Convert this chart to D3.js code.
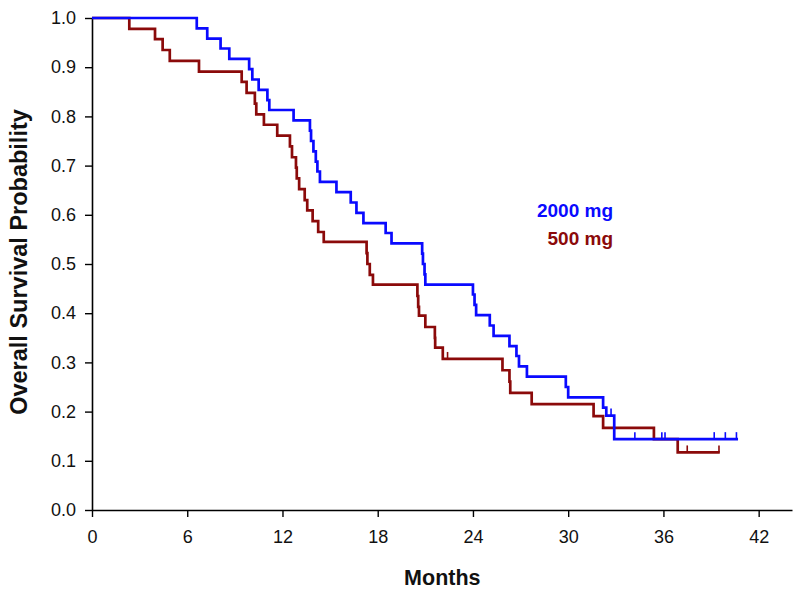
<!DOCTYPE html>
<html>
<head>
<meta charset="utf-8">
<script src="https://cdn.jsdelivr.net/npm/d3@7/dist/d3.min.js"></script>
<style>
  html, body { margin: 0; padding: 0; background: #fff; }
  svg { display: block; font-family: "Liberation Sans", Arial, sans-serif; }
</style>
</head>
<body>
<svg id="chart" width="800" height="600"></svg>
<script>
// ---- Data ----
const seriesNames = ["2000 mg", "500 mg"];
const seriesColors = ["#0a0aff", "#8b0a0a"];

// 2000 mg arm: event times (months) and survival after each step
const timesHigh = [0, 6.6, 7.26, 8.1, 8.65, 9.9, 10.1, 10.5, 11.05, 11.17, 12.7, 13.73, 13.8, 13.95, 14.1, 14.2, 14.36,
  15.4, 16.3, 16.66, 17.1, 18.5, 18.87, 20.8, 20.85, 20.95, 21.0, 24.0, 24.1, 24.2, 25.06, 25.3, 26.3, 26.74, 26.9,
  27.4, 29.85, 30.0, 32.2, 32.4, 32.9];
const survHigh = [1.0, 0.979, 0.958, 0.938, 0.917, 0.896, 0.875, 0.854, 0.833, 0.813, 0.792, 0.771, 0.750, 0.729, 0.708, 0.688, 0.667,
  0.646, 0.625, 0.604, 0.583, 0.563, 0.542, 0.521, 0.500, 0.479, 0.458, 0.438, 0.417, 0.396, 0.375, 0.354, 0.333, 0.313, 0.292,
  0.271, 0.250, 0.229, 0.208, 0.192, 0.144];
const endHigh = 40.7;
const censorHigh = [32.7, 34.2, 35.9, 36.1, 39.2, 39.9, 40.6];

// 500 mg arm
const timesLow = [0, 2.35, 3.97, 4.45, 4.9, 6.74, 9.43, 9.74, 10.26, 10.35, 10.83, 11.67, 12.47, 12.6, 12.85, 12.9, 13.05,
  13.4, 13.56, 13.9, 14.25, 14.6, 17.3, 17.35, 17.5, 17.7, 20.5, 20.55, 20.6, 21.0, 21.6, 21.62, 22.1, 25.86, 26.3, 26.35,
  27.7, 31.6, 32.2, 35.4, 36.9];
const survLow = [1.0, 0.978, 0.957, 0.935, 0.913, 0.891, 0.870, 0.848, 0.826, 0.804, 0.783, 0.761, 0.739, 0.717, 0.696, 0.674, 0.652,
  0.630, 0.609, 0.587, 0.565, 0.545, 0.522, 0.500, 0.478, 0.458, 0.435, 0.413, 0.395, 0.372, 0.350, 0.330, 0.307, 0.284, 0.261, 0.238,
  0.215, 0.191, 0.167, 0.144, 0.117];
const endLow = 39.55;
const censorLow = [22.4, 37.5, 39.5];

const xTicks = [0, 6, 12, 18, 24, 30, 36, 42];
const yTicks = [0, 0.1, 0.2, 0.3, 0.4, 0.5, 0.6, 0.7, 0.8, 0.9, 1.0];
const xTitle = "Months";
const yTitle = "Overall Survival Probability";

// ---- Chart ----
const svg = d3.select("#chart");
const x = d3.scaleLinear().domain([0, 44.1]).range([92, 792]);
const y = d3.scaleLinear().domain([0, 1]).range([510, 18]);

// axes
const xAxis = svg.append("g").attr("transform", `translate(0,${y(0)})`)
  .call(d3.axisBottom(x).tickValues(xTicks).tickSize(7).tickSizeOuter(0).tickPadding(13).tickFormat(d3.format("d")));
const yAxis = svg.append("g").attr("transform", `translate(${x(0)},0)`)
  .call(d3.axisLeft(y).tickValues(yTicks).tickSize(7).tickSizeOuter(0).tickPadding(9).tickFormat(d3.format(".1f")));
[xAxis, yAxis].forEach(g => {
  g.selectAll("path.domain").attr("stroke", "#000").attr("stroke-width", 1.6);
  g.selectAll(".tick line").attr("stroke", "#000").attr("stroke-width", 1.4);
  g.selectAll(".tick text").attr("fill", "#111").style("font-size", "18px")
    .style("font-family", '"Liberation Sans", Arial, sans-serif');
});

// titles
svg.append("text").attr("x", x(0) + (x(42) - x(0)) / 2 + 17).attr("y", 585)
  .attr("text-anchor", "middle").style("font-size", "21.5px").style("font-weight", "bold")
  .attr("fill", "#111").text(xTitle);
svg.append("text").attr("transform", `translate(27,${(y(0) + y(1)) / 2 - 2}) rotate(-90)`)
  .attr("text-anchor", "middle").style("font-size", "23.5px").style("font-weight", "bold")
  .attr("fill", "#111").text(yTitle);

// curves
const line = d3.line().x(d => x(d[0])).y(d => y(d[1])).curve(d3.curveStepAfter);
function makePts(times, surv, end) {
  const pts = times.map((t, i) => [t, surv[i]]);
  pts.push([end, surv[surv.length - 1]]);
  return pts;
}
function survAt(times, surv, t) {
  const i = d3.bisectRight(times, t) - 1;
  return surv[Math.max(0, i)];
}
const arms = [
  { times: timesLow, surv: survLow, end: endLow, cens: censorLow, color: seriesColors[1] },
  { times: timesHigh, surv: survHigh, end: endHigh, cens: censorHigh, color: seriesColors[0] }
];
arms.forEach(a => {
  svg.append("path").datum(makePts(a.times, a.surv, a.end))
    .attr("d", line).attr("fill", "none").attr("stroke", a.color).attr("stroke-width", 2.7)
    .attr("stroke-linejoin", "miter");
  svg.append("g").selectAll("line").data(a.cens).join("line")
    .attr("x1", d => x(d)).attr("x2", d => x(d))
    .attr("y1", d => y(survAt(a.times, a.surv, d)))
    .attr("y2", d => y(survAt(a.times, a.surv, d)) - 7)
    .attr("stroke", a.color).attr("stroke-width", 1.6);
});

// legend (text labels)
svg.append("g").selectAll("text").data(seriesNames).join("text")
  .attr("x", 613).attr("y", (d, i) => 217 + i * 28)
  .attr("text-anchor", "end").style("font-size", "19px").style("font-weight", "bold")
  .attr("fill", (d, i) => seriesColors[i]).text(d => d);
</script>
</body>
</html>
